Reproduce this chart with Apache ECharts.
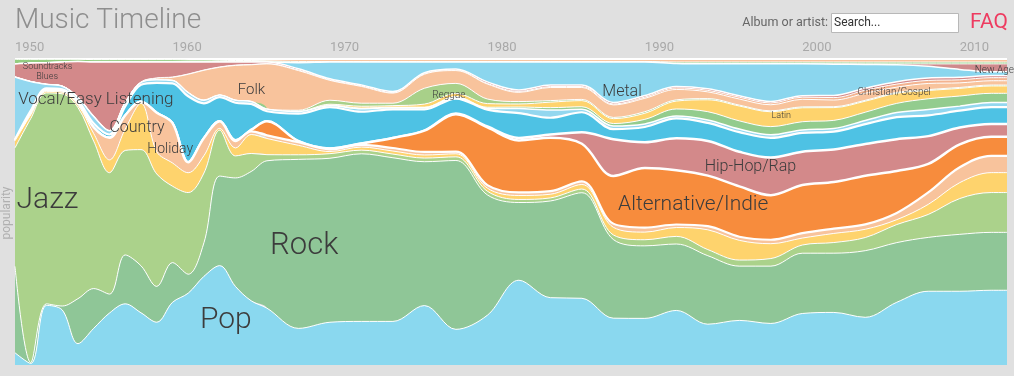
<!DOCTYPE html>
<html>
<head>
<meta charset="utf-8">
<title>Music Timeline</title>
<script src="https://cdn.jsdelivr.net/npm/echarts@6/dist/echarts.min.js"></script>
<style>
  html, body { margin: 0; padding: 0; background: #e0e0e0; }
  #main { width: 1014px; height: 376px; }
</style>
</head>
<body>
<div id="main"></div>
<script>
  // sample years (yearly in the 50s/60s, then every second year)
  var years = [1950, 1951, 1952, 1953, 1954, 1955, 1956, 1957, 1958, 1959, 1960, 1961, 1962, 1963, 1964, 1965, 1966,
    1968, 1970, 1972, 1974, 1976, 1978, 1980, 1982, 1984, 1986, 1988, 1990, 1992, 1994, 1996, 1998, 2000, 2002, 2004,
    2006, 2008, 2010, 2012, 2013];

  // share of popularity per genre (%), bottom of the stack first
  var pop = [4, 0.5, 19.5, 18, 7, 12, 17, 20, 17, 14, 20.5, 23.5, 29, 32.5, 25.7, 21, 18.6,
    12, 14, 14.3, 14.3, 19.5, 11.7, 16.3, 27.7, 22, 21.8, 15.3, 15.3, 17.9, 13.4, 14.7, 13.7, 17, 17.3, 15.6, 20.5, 24.1, 24.1, 24.4, 24.4];
  var rock = [28.3, 0.3, 0.5, 1.3, 14.7, 13, 6.2, 16, 15.3, 11.7, 13, 6.2, 11, 29.3, 35.5, 42.3, 48.2,
    55.4, 53.7, 55, 53.7, 47.2, 55.4, 39.4, 25.4, 31.6, 34.5, 25.7, 23.8, 21.8, 22.5, 17.9, 18.9, 19.9, 19.5, 21.8, 19.5, 17.6, 18.6, 18.9, 18.9];
  var jazz = [38.8, 79.8, 69, 69.4, 62.5, 48.2, 39.7, 34.2, 37.8, 36.8, 25, 26.7, 22.8, 15, 7.2, 5.9, 2,
    1.5, 1.5, 1.2, 1.2, 1.2, 1.2, 1.2, 1, 1, 1.2, 1.5, 2, 2.5, 2, 2, 2.5, 2.7, 3.5, 4.3, 5.9, 7.5, 11.7, 13, 13];
  var country = [2.3, 1.2, 0.5, 0.5, 0.8, 2.5, 4.2, 7, 15.1, 7.3, 7.6, 6.5, 5.7, 0.6, 2.6, 6.2, 5.3,
    3.1, 0.7, 1, 1, 1, 1, 1, 1.3, 1.2, 1.5, 2.5, 2.5, 2.9, 6.5, 6.5, 4.9, 2.3, 3, 2.7, 1.6, 3.3, 5.2, 6.5, 6.5];
  var holiday = [0.1, 0.7, 0.5, 0.5, 0.7, 2, 7.2, 4.4, 0.5, 12.7, 13, 3.4, 5.7, 2.3, 2.2, 1, 1,
    1, 0.7, 0.7, 1, 1, 0.7, 1, 1, 1, 1, 1.2, 1.5, 1, 1.2, 1.2, 1.3, 1.6, 1.6, 1.6, 2.2, 3.9, 5, 5.5, 5.5];
  var alternative = [0, 0, 0, 0, 0, 0, 0, 0, 0, 0, 0, 0, 0, 0, 0.3, 0.5, 4.6,
    0.4, 0.3, 0.5, 3.3, 7, 12.3, 18.9, 17, 17.5, 12.3, 15.6, 19.5, 17.8, 16.6, 16.6, 14.7, 15.9, 15.3, 15.9, 13.7, 9.3, 7.5, 6.2, 6.2];
  var hiphop = [0, 0, 0, 0, 0, 0, 0, 0, 0, 0, 0, 0, 0, 0, 0, 0, 0,
    0, 0, 0, 0, 0, 0.2, 0.3, 0.8, 1, 3.8, 12, 8.5, 10.5, 11.4, 11.4, 12.4, 11, 10.7, 10.4, 10.4, 9.1, 5.5, 4.2, 4.2];
  var rnb = [0.3, 0.7, 0.5, 0.5, 0.8, 1.3, 1.1, 3, 5.5, 9.8, 13, 21.6, 11.4, 7.9, 12.3, 8.5, 3.3,
    9, 13.5, 10.4, 9.4, 7, 4.9, 5.5, 8.1, 5.5, 6.5, 3.3, 5, 6.5, 5.9, 6.5, 6.5, 6.2, 5.9, 6.5, 7.2, 6.8, 5.5, 5.5, 5.5];
  var blues = [20.5, 9.5, 1.3, 1, 1, 2.3, 1.2, 1.2, 0.8, 1, 1, 1.2, 1, 0.7, 0.8, 0.8, 0.7,
    0.7, 0.5, 1, 0.5, 0.5, 0.5, 0.5, 1.5, 2.5, 1, 1, 1, 0.8, 1, 1, 1, 1, 1, 1.2, 1.5, 1.9, 1.5, 1.5, 1.5];
  var dance = [0, 0, 0, 0, 0, 0, 0, 0, 0, 0, 0, 0, 0, 0, 0, 0, 0,
    0, 0.2, 0.2, 0.2, 0.2, 0.2, 0.3, 0.5, 0.8, 0.8, 0.8, 1.5, 2.3, 2.7, 2.7, 2.7, 2.7, 2.7, 2.7, 3, 3.5, 3.3, 3, 3];
  var latin = [0, 0, 0, 0, 0, 0, 0, 0, 0, 0, 0, 0, 0, 0, 0, 0, 0,
    0.1, 0.3, 0.6, 0.5, 1, 1, 1.2, 1, 1.8, 2, 1.6, 2, 2.6, 3.9, 4.9, 4.9, 4.6, 4.2, 3.6, 3.3, 2.7, 2.5, 2.4, 2.4];
  var reggae = [0, 0, 0, 0, 0, 0, 0, 0, 0, 0, 0, 0, 0, 0, 0, 0, 0,
    0.3, 1.3, 1, 0.8, 5.2, 3.3, 1.5, 0.8, 0.5, 0.4, 0.4, 0.5, 0.4, 0.4, 0.3, 0.3, 0.3, 0.3, 0.3, 0.3, 0.3, 0.3, 0.3, 0.3];
  var folk = [0, 0, 0, 0, 0, 0, 0, 0, 0, 0.5, 1, 6, 9.8, 9.1, 11.4, 12, 14.8,
    13, 6.5, 5.5, 3.3, 4.6, 4.2, 4.9, 3, 4.3, 3.9, 4.1, 4.4, 3.4, 2.2, 2, 2, 2.5, 2.2, 2.3, 1.7, 2, 1.5, 1.4, 1.4];
  var gospel = [0.1, 0.1, 0.1, 0.1, 0.1, 0.1, 0.1, 0.1, 0.1, 0.1, 0.1, 0.1, 0.1, 0.1, 0.1, 0.1, 0.1,
    0.2, 0.2, 0.2, 0.2, 0.2, 0.2, 0.2, 0.3, 0.3, 0.3, 0.3, 0.4, 0.5, 0.5, 0.6, 0.6, 0.7, 0.8, 1, 1, 1, 1, 1, 1];
  var vocal = [4.2, 6, 7, 7.8, 11.7, 17.7, 22.4, 13.2, 6.5, 5.2, 4.9, 3.9, 2.6, 1.6, 1, 0.8, 0.5,
    0.4, 0.3, 0.3, 0.3, 0.3, 0.3, 0.5, 0.5, 0.5, 0.5, 0.5, 0.5, 0.5, 0.5, 0.5, 0.5, 0.5, 0.7, 0.7, 0.8, 0.8, 0.8, 0.7, 0.7];
  var metal = [0, 0, 0, 0, 0, 0, 0, 0, 0, 0, 0, 0, 0, 0, 0, 0, 0,
    2, 5.5, 7.5, 9.7, 3.5, 2.3, 6.5, 9.1, 7.5, 7.5, 13.2, 11, 7.5, 8.2, 10.5, 12.4, 10.5, 10.3, 7.7, 5.5, 3.8, 2.6, 1.2, 1.2];
  var newAge = [0, 0, 0, 0, 0, 0, 0, 0, 0, 0, 0, 0, 0, 0, 0, 0, 0,
    0, 0, 0, 0, 0, 0, 0, 0, 0, 0, 0, 0, 0, 0, 0, 0, 0, 0.1, 0.2, 0.3, 0.8, 1.8, 2.6, 2.6];
  var soundtracks = [1.5, 1.2, 1.1, 0.9, 0.7, 0.8, 0.8, 0.8, 0.8, 0.8, 0.8, 0.7, 0.7, 0.6, 0.5, 0.5, 0.4,
    0.4, 0.2, 0.2, 0.2, 0.2, 0.2, 0.2, 0.2, 0.2, 0.2, 0.2, 0.2, 0.5, 0.6, 0.6, 0.6, 0.6, 0.6, 0.6, 0.6, 0.6, 0.6, 0.6, 0.6];
  var classical = [0.1, 0.1, 0.1, 0.1, 0.1, 0.2, 0.2, 0.2, 0.2, 0.2, 0.2, 0.3, 0.3, 0.4, 0.5, 0.5, 0.6,
    0.8, 0.8, 0.8, 0.8, 0.8, 0.8, 0.8, 0.8, 0.8, 0.8, 0.8, 0.8, 1, 1, 1, 1, 1, 1, 1, 1, 1, 1, 1, 1];

  var genres = ['Pop', 'Rock', 'Jazz', 'Country', 'Holiday', 'Alternative/Indie', 'Hip-Hop/Rap', 'R&B/Soul', 'Blues',
    'Dance/Electronic', 'Latin', 'Reggae', 'Folk', 'Christian/Gospel', 'Vocal/Easy Listening', 'Metal', 'New Age',
    'Soundtracks', 'Classical'];
  var values = [pop, rock, jazz, country, holiday, alternative, hiphop, rnb, blues, dance, latin, reggae, folk,
    gospel, vocal, metal, newAge, soundtracks, classical];

  // in-chart labels: text, year, share (%), font size
  var labels = [
    ['Jazz', 1950.1, 53.7, 30],
    ['Rock', 1966.2, 38.9, 31],
    ['Pop', 1961.75, 14.6, 30],
    ['Alternative/Indie', 1988.3, 52.3, 21],
    ['Hip-Hop/Rap', 1993.8, 64.8, 16],
    ['Metal', 1987.3, 89.3, 16],
    ['Folk', 1964.15, 89.9, 15],
    ['Vocal/Easy Listening', 1950.2, 86.6, 17],
    ['Country', 1956.0, 77.5, 16],
    ['Holiday', 1958.4, 70.4, 14],
    ['Reggae', 1976.5, 88, 10],
    ['Latin', 1998.05, 81.4, 9],
    ['Christian/Gospel', 2003.5, 89.1, 10],
    ['New Age', 2010.95, 96.1, 10],
    ['Soundtracks', 1950.5, 97.4, 9],
    ['Blues', 1951.35, 94.1, 9]
  ];

  var colors = ['#8ad8ef', '#8fc697', '#abd28b', '#fed36d', '#f8c39c', '#f78c3d', '#d3898a', '#4ec2e4', '#93d7ef',
    '#93cc8e', '#fed36d', '#a8d089', '#f8c39c', '#f4b38f', '#d3898a', '#8bd6ee', '#cf8a8c', '#93cd80', '#f8c39c'];
  var lineWidths = [1, 1, 1, 1, 2.2, 2.5, 2.5, 2.2, 1.5, 1, 1, 1, 1, 1, 1.5, 1.5, 1, 1, 2];

  var font = 'Roboto, "Liberation Sans", sans-serif';

  // one category per calendar year so the spacing stays true; unsampled years stay empty
  var firstYear = 1950, lastYear = 2013;
  var allYears = [];
  for (var y = firstYear; y <= lastYear; y++) allYears.push(String(y));

  // every sampled year adds up to 100%
  var totals = years.map(function (yr, j) {
    return values.reduce(function (s, arr) { return s + arr[j]; }, 0);
  });

  var series = genres.map(function (name, i) {
    return {
      name: name,
      type: 'line',
      stack: 'share',
      smooth: 0.35,
      connectNulls: true,
      symbol: 'none',
      z: 2 + genres.length - i,   // lower layers on top so every white border stays visible
      lineStyle: { color: '#fff', width: lineWidths[i] },
      areaStyle: { color: colors[i], opacity: 1 },
      emphasis: { disabled: true },
      data: allYears.map(function (yr) {
        var j = years.indexOf(+yr);
        return j < 0 ? null : values[i][j] / totals[j] * 100;
      })
    };
  });

  var chart = echarts.init(document.getElementById('main'));
  chart.setOption({
    backgroundColor: '#e0e0e0',
    animation: false,
    grid: { left: 15, right: 7, top: 59, bottom: 11 },
    xAxis: {
      type: 'category',
      data: allYears,
      position: 'top',
      boundaryGap: false,
      axisLine: { show: false },
      axisTick: { show: false },
      splitLine: { show: false },
      axisLabel: {
        color: '#a9a9a9',
        fontSize: 13,
        fontFamily: font,
        align: 'left',
        margin: 5,
        interval: function (idx, val) { return +val % 10 === 0; }
      }
    },
    yAxis: { type: 'value', min: 0, max: 100, show: false },
    series: series
  });

  var header = [
    { type: 'text', x: 15, y: 21, z: 100, style: { text: 'Music Timeline', fill: '#8e8e8e', fontSize: 28, fontWeight: 300, fontFamily: font, align: 'left', verticalAlign: 'middle' } },
    { type: 'text', x: 828, y: 23, z: 100, style: { text: 'Album or artist:', fill: '#666', fontSize: 12.5, fontFamily: font, align: 'right', verticalAlign: 'middle' } },
    { type: 'rect', z: 100, shape: { x: 831.5, y: 13.5, width: 127, height: 19 }, style: { fill: '#fff', stroke: '#b8b8b8', lineWidth: 1 } },
    { type: 'text', x: 834, y: 23, z: 101, style: { text: 'Search...', fill: '#333', fontSize: 12, fontFamily: font, align: 'left', verticalAlign: 'middle' } },
    { type: 'text', x: 1008, y: 23, z: 100, style: { text: 'FAQ', fill: '#ee3b60', fontSize: 21, fontFamily: font, align: 'right', verticalAlign: 'middle' } },
    { type: 'text', x: 7, y: 213, z: 100, rotation: Math.PI / 2, style: { text: 'popularity', fill: '#b0b0b0', fontSize: 12, fontFamily: font, align: 'center', verticalAlign: 'middle' } }
  ];

  // place the genre names through the grid's own scales (fractional years between categories)
  var x0 = chart.convertToPixel({ gridIndex: 0 }, [0, 0]);
  var x1 = chart.convertToPixel({ gridIndex: 0 }, [allYears.length - 1, 100]);
  var genreLabels = labels.map(function (l) {
    var px = x0[0] + (l[1] - firstYear) / (lastYear - firstYear) * (x1[0] - x0[0]);
    var py = chart.convertToPixel({ yAxisIndex: 0 }, l[2]);
    return {
      type: 'text', x: px, y: py, z: 100,
      style: { text: l[0], fill: '#3c3c3c', fontSize: l[3], fontWeight: 300, fontFamily: font, align: 'left', verticalAlign: 'middle' }
    };
  });

  chart.setOption({ graphic: header.concat(genreLabels) });
</script>
</body>
</html>
